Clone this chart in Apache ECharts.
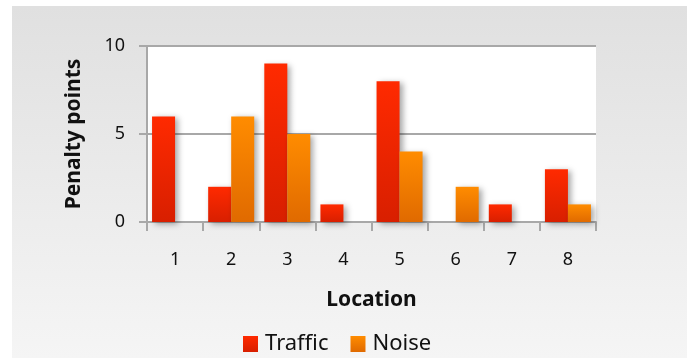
<!DOCTYPE html>
<html>
<head>
<meta charset="utf-8">
<script src="https://cdn.jsdelivr.net/npm/echarts@6/dist/echarts.min.js"></script>
<style>
  html, body { margin: 0; padding: 0; background: #ffffff; }
  #chart { width: 687px; height: 358px; }
</style>
</head>
<body>
<div id="chart"></div>
<script>
// Penalty points per location
const locations = ['1', '2', '3', '4', '5', '6', '7', '8'];
const traffic = [6, 2, 9, 1, 8, 0, 1, 3];
const noise = [0, 6, 5, 0, 4, 2, 0, 1];
const yTicks = { min: 0, max: 10, interval: 5 };

const FONT = '"Noto Sans", "Open Sans", sans-serif';
const AXIS_GRAY = '#a8a8a8';

function vGrad(top, bottom) {
  return new echarts.graphic.LinearGradient(0, 0, 0, 1, [
    { offset: 0, color: top },
    { offset: 1, color: bottom }
  ]);
}

const barShadow = {
  shadowColor: 'rgba(0,0,0,0.35)',
  shadowBlur: 6,
  shadowOffsetX: 3,
  shadowOffsetY: 2
};

const chart = echarts.init(document.getElementById('chart'), null, { renderer: 'canvas' });

chart.setOption({
  animation: false,
  backgroundColor: '#ffffff',
  graphic: [{
    type: 'rect',
    z: -10,
    silent: true,
    shape: { x: 12, y: 6, width: 687 - 12, height: 358 - 6 },
    style: { fill: vGrad('#e0e0e0', '#f5f5f5') }
  }],
  grid: {
    left: 147, right: 91, top: 46, bottom: 136,
    show: true, backgroundColor: '#ffffff', borderWidth: 0
  },
  legend: {
    left: 238, top: 328,
    itemWidth: 15, itemHeight: 16, itemGap: 22,
    icon: 'rect',
    textStyle: { fontFamily: FONT, fontSize: 22, color: '#111111', padding: [0, 0, 0, 2] },
    data: ['Traffic', 'Noise']
  },
  xAxis: {
    type: 'category',
    data: locations,
    name: 'Location',
    nameLocation: 'middle',
    nameGap: 68,
    nameTextStyle: { fontFamily: FONT, fontSize: 21, fontWeight: 'bold', color: '#111111' },
    axisLine: { lineStyle: { color: AXIS_GRAY, width: 2 } },
    axisTick: { show: true, length: 9, lineStyle: { color: AXIS_GRAY, width: 2 } },
    axisLabel: { margin: 29, fontFamily: FONT, fontSize: 18, color: '#111111' }
  },
  yAxis: {
    type: 'value',
    min: yTicks.min, max: yTicks.max, interval: yTicks.interval,
    name: 'Penalty points',
    nameLocation: 'middle',
    nameGap: 62,
    nameRotate: 90,
    nameTextStyle: { fontFamily: FONT, fontSize: 21, fontWeight: 'bold', color: '#111111' },
    axisLine: { show: true, lineStyle: { color: AXIS_GRAY, width: 2 } },
    axisTick: { show: true, length: 8, lineStyle: { color: AXIS_GRAY, width: 2 } },
    axisLabel: { margin: 22, fontFamily: FONT, fontSize: 18, color: '#111111', padding: [10, 0, 0, 0] },
    splitLine: { show: true, lineStyle: { color: AXIS_GRAY, width: 2 } }
  },
  series: [
    {
      name: 'Traffic',
      type: 'bar',
      data: traffic,
      barGap: '0%',
      barCategoryGap: '18%',
      itemStyle: Object.assign({ color: vGrad('#ff2a00', '#d81f00') }, barShadow)
    },
    {
      name: 'Noise',
      type: 'bar',
      data: noise,
      barGap: '0%',
      barCategoryGap: '18%',
      itemStyle: Object.assign({ color: vGrad('#ff8c00', '#e06a00') }, barShadow)
    }
  ]
});
</script>
</body>
</html>
